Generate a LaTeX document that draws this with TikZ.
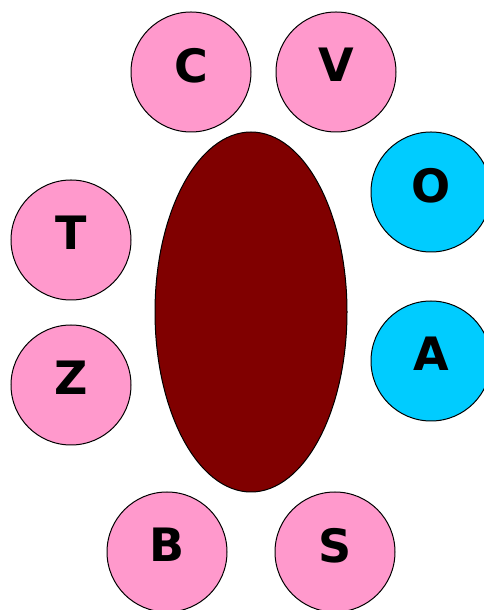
\documentclass[tikz,border=0pt]{standalone}
\usepackage{fontspec}
\setmainfont{DejaVu Sans}
\usepackage{tikz}
\usetikzlibrary{shapes.geometric, positioning}

\definecolor{pinkball}{HTML}{FF99CC}
\definecolor{blueball}{HTML}{00CCFF}
\definecolor{maroonbody}{HTML}{800000}

\begin{document}
\begin{tikzpicture}[x=1pt,y=1pt,
  ball/.style={circle,draw,line width=1pt,minimum size=120pt,inner sep=0pt,
    text depth=14pt,font=\fontsize{46}{46}\selectfont\bfseries},
  pink/.style={ball,fill=pinkball},
  blue/.style={ball,fill=blueball}]

\useasboundingbox (0,0) rectangle (484,610);

\node[ellipse,draw,line width=1pt,fill=maroonbody,minimum width=192pt,minimum height=360pt] (body) at (251,298) {};

\node[pink] (c) at (191,538) {C};
\node[pink,right = 24pt of c] (v) {V};
\node[blue] (o) at (431,418) {O};
\node[blue,below = 48pt of o] (a) {A};
\node[pink] (t) at (71,370) {T};
\node[pink,below = 24pt of t] (z) {Z};
\node[pink] (b) at (167,58) {B};
\node[pink] (s) at (335,58) {S};

\end{tikzpicture}
\end{document}
